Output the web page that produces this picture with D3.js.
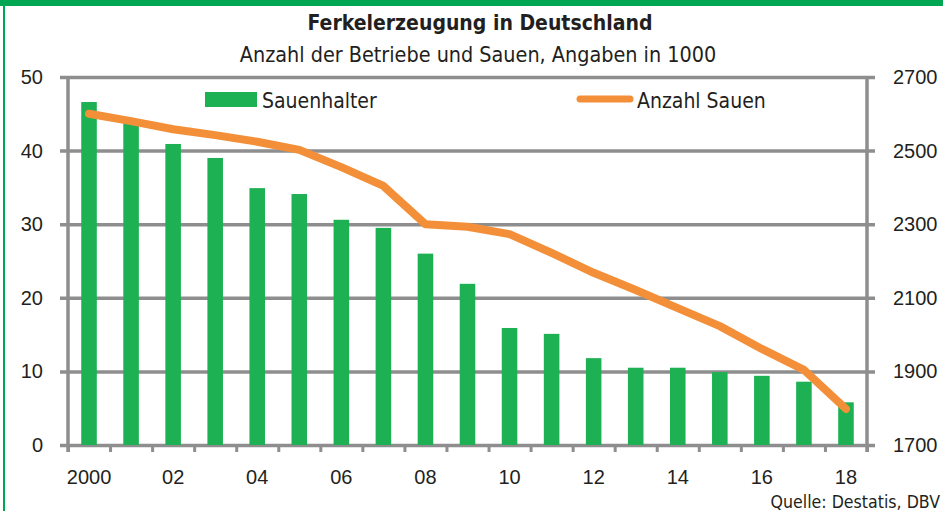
<!DOCTYPE html>
<html>
<head>
<meta charset="utf-8">
<script src="https://cdn.jsdelivr.net/npm/d3@7"></script>
<style>
  body { margin: 0; background: #fff; }
  svg { display: block; font-family: "DejaVu Sans Condensed", "Liberation Sans Narrow", sans-serif; }
  .domain { display: none; }
</style>
</head>
<body>
<svg></svg>
<script>
var width = 943;
var height = 511;

// data (Angaben in 1000)
var years = [2000, 2001, 2002, 2003, 2004, 2005, 2006, 2007, 2008, 2009,
  2010, 2011, 2012, 2013, 2014, 2015, 2016, 2017, 2018];
var sauenhalter = [46.6, 44.0, 40.9, 39.0, 34.9, 34.1, 30.6, 29.5, 26.0, 21.9,
  15.9, 15.1, 11.8, 10.5, 10.5, 9.9, 9.4, 8.6, 5.8];
var anzahlSauen = [2600, 2580, 2558, 2542, 2524, 2502, 2455, 2404, 2300, 2293,
  2273, 2222, 2168, 2121, 2072, 2023, 1961, 1904, 1798];
var leftTicks = [0, 10, 20, 30, 40, 50];
var rightTicks = [1700, 1900, 2100, 2300, 2500, 2700];

var padding = { top: 77, right: 76, bottom: 66, left: 68 };
var plotRight = width - padding.right;
var plotBottom = height - padding.bottom;

var grey = "#8e8e8e";
var green = "#1db154";
var orange = "#f38f38";
var textColor = "#231f20";

var svg = d3.select("svg").attr("width", width).attr("height", height);

// green frame
svg.append("rect").attr("x", 0).attr("y", 0).attr("width", width).attr("height", 6).attr("fill", "#00a651");
svg.append("rect").attr("x", 3).attr("y", 0).attr("width", 2).attr("height", height).attr("fill", "#00a651");

var xScale = d3.scaleBand()
  .domain(years)
  .range([padding.left, plotRight])
  .paddingInner(0.63)
  .paddingOuter(0.315);

var xIndex = d3.scaleLinear()
  .domain([0, years.length])
  .range([padding.left, plotRight]);

var yLeft = d3.scaleLinear().domain([0, 50]).range([plotBottom, padding.top]);
var yRight = d3.scaleLinear().domain([1700, 2700]).range([plotBottom, padding.top]);

// gridlines
svg.append("g")
  .attr("transform", "translate(" + (padding.left - 8) + ",0)")
  .call(d3.axisRight(yLeft).tickValues(leftTicks).tickSize(plotRight - padding.left + 16).tickFormat(""))
  .call(g => g.selectAll("line").attr("stroke", grey).attr("stroke-width", 3.5));

// vertical axis lines
[padding.left, plotRight].forEach(function(x) {
  svg.append("line")
    .attr("x1", x).attr("x2", x)
    .attr("y1", padding.top).attr("y2", plotBottom + 7)
    .attr("stroke", grey).attr("stroke-width", 3.5);
});

// bottom tick marks at category boundaries
svg.append("g")
  .attr("transform", "translate(0," + plotBottom + ")")
  .call(d3.axisBottom(xIndex).tickValues(d3.range(years.length + 1)).tickSize(7).tickFormat(""))
  .call(g => g.selectAll("line").attr("stroke", grey).attr("stroke-width", 3));

// left labels
svg.append("g")
  .attr("transform", "translate(" + padding.left + ",0)")
  .call(d3.axisLeft(yLeft).tickValues(leftTicks).tickSize(0).tickPadding(25))
  .call(g => g.selectAll("text").attr("fill", textColor).style("font-size", "20px"));

// right labels
svg.append("g")
  .attr("transform", "translate(" + plotRight + ",0)")
  .call(d3.axisRight(yRight).tickValues(rightTicks).tickSize(0).tickPadding(26).tickFormat(d3.format("d")))
  .call(g => g.selectAll("text").attr("fill", textColor).style("font-size", "20px"));

// x labels
svg.append("g")
  .attr("transform", "translate(0," + plotBottom + ")")
  .call(d3.axisBottom(xScale).tickSize(0).tickPadding(25).tickFormat(function(d) {
    if (d % 2 !== 0) return "";
    return d === 2000 ? "2000" : String(d).slice(2);
  }))
  .call(g => g.selectAll("text").attr("fill", textColor).style("font-size", "20px"));

// bars
svg.append("g")
  .selectAll("rect")
  .data(years)
  .enter()
  .append("rect")
  .attr("x", d => xScale(d))
  .attr("y", (d, i) => yLeft(sauenhalter[i]))
  .attr("width", xScale.bandwidth())
  .attr("height", (d, i) => plotBottom - yLeft(sauenhalter[i]))
  .attr("fill", green);

// line
var line = d3.line()
  .x((d, i) => xScale(years[i]) + xScale.bandwidth() / 2)
  .y(d => yRight(d));

svg.append("path")
  .datum(anzahlSauen)
  .attr("d", line)
  .attr("fill", "none")
  .attr("stroke", orange)
  .attr("stroke-width", 8)
  .attr("stroke-linecap", "round")
  .attr("stroke-linejoin", "round");

// legend
svg.append("rect").attr("x", 205).attr("y", 92).attr("width", 52).attr("height", 15).attr("fill", green);
svg.append("text").attr("x", 262).attr("y", 108).text("Sauenhalter")
  .attr("fill", textColor).style("font-size", "21px");
svg.append("line").attr("x1", 580).attr("x2", 630).attr("y1", 99).attr("y2", 99)
  .attr("stroke", orange).attr("stroke-width", 7).attr("stroke-linecap", "round");
svg.append("text").attr("x", 637).attr("y", 108).text("Anzahl Sauen")
  .attr("fill", textColor).style("font-size", "21px");

// titles
svg.append("text").attr("x", 480).attr("y", 30).attr("text-anchor", "middle")
  .text("Ferkelerzeugung in Deutschland")
  .attr("fill", textColor).style("font-size", "21px").style("font-weight", "bold");
svg.append("text").attr("x", 478).attr("y", 62).attr("text-anchor", "middle")
  .text("Anzahl der Betriebe und Sauen, Angaben in 1000")
  .attr("fill", textColor).style("font-size", "21.4px");

// source
svg.append("text").attr("x", 940).attr("y", 508).attr("text-anchor", "end")
  .text("Quelle: Destatis, DBV")
  .attr("fill", textColor).style("font-size", "17.6px");
</script>
</body>
</html>
